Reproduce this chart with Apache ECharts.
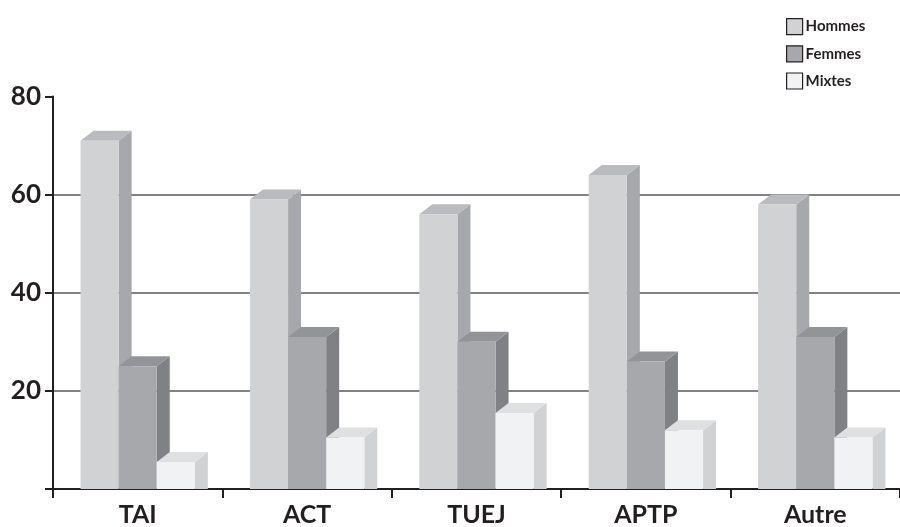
<!DOCTYPE html>
<html>
<head>
<meta charset="utf-8">
<script src="https://cdn.jsdelivr.net/npm/echarts@6/dist/echarts.min.js"></script>
<style>
  html, body { margin: 0; padding: 0; background: #fff; }
  #chart { width: 900px; height: 527px; }
</style>
</head>
<body>
<div id="chart"></div>
<script>
// data
const categories = ["TAI", "ACT", "TUEJ", "APTP", "Autre"];
const hommes = [71, 59, 56, 64, 58];
const femmes = [25, 31, 30, 26, 31];
const mixtes = [5.5, 10.5, 15.5, 12, 10.5];
const yTicks = [0, 20, 40, 60, 80];
const seriesNames = ["Hommes", "Femmes", "Mixtes"];

// front / side / top shades for each series
const shades = [
  { front: "#d1d2d4", side: "#a7a8ab", top: "#babbbe" },
  { front: "#a7a8ab", side: "#808184", top: "#939497" },
  { front: "#f1f2f3", side: "#d1d2d4", top: "#dfe0e2" }
];

const DX = 13, DY = 10; // fake depth in px

function renderItem(params, api) {
  const s = params.seriesIndex;
  const idx = api.value(0);
  const base = api.coord([idx, 0]);
  const top = api.coord([idx, api.value(1)]);
  const band = api.size([1, 0])[0];
  const w = band * 0.225;
  const x0 = base[0] - 1.5 * w + s * w;
  const x1 = x0 + w;
  const y0 = base[1];
  const y = top[1];
  const c = shades[s];
  return {
    type: "group",
    children: [
      {
        type: "polygon",
        shape: { points: [[x1, y], [x1 + DX, y - DY], [x1 + DX, y0], [x1, y0]] },
        style: { fill: c.side }
      },
      {
        type: "polygon",
        shape: { points: [[x0, y], [x1, y], [x1 + DX, y - DY], [x0 + DX, y - DY]] },
        style: { fill: c.top }
      },
      {
        type: "rect",
        shape: { x: x0, y: y, width: w, height: y0 - y },
        style: { fill: c.front }
      }
    ]
  };
}

const values = [hommes, femmes, mixtes];

const option = {
  animation: false,
  textStyle: { fontFamily: "Lato" },
  legend: {
    orient: "vertical",
    left: 781,
    top: 13,
    icon: "rect",
    itemWidth: 16,
    itemHeight: 16,
    itemGap: 10,
    align: "left",
    itemStyle: { borderColor: "#231f20", borderWidth: 1.2 },
    textStyle: { fontSize: 15, fontWeight: "bold", color: "#231f20", padding: [0, 0, 0, -2] },
    data: seriesNames
  },
  grid: { left: 53, right: -3, top: 96.5, bottom: 37, containLabel: false },
  xAxis: {
    type: "category",
    data: categories,
    boundaryGap: true,
    axisLine: { lineStyle: { color: "#231f20", width: 2 } },
    axisTick: { show: true, length: 9, lineStyle: { color: "#231f20", width: 2 } },
    axisLabel: { fontSize: 25, fontWeight: "bold", color: "#231f20", margin: 13 },
    splitLine: { show: false }
  },
  yAxis: {
    type: "value",
    min: yTicks[0],
    max: yTicks[yTicks.length - 1],
    interval: 20,
    axisLine: { show: true, lineStyle: { color: "#231f20", width: 2 } },
    axisTick: { show: true, length: 8, lineStyle: { color: "#231f20", width: 2 } },
    axisLabel: {
      fontSize: 26, fontWeight: "bold", color: "#231f20", margin: 12,
      formatter: v => (v === 0 ? "" : String(v))
    },
    splitLine: {
      show: true,
      showMinLine: false,
      showMaxLine: false,
      lineStyle: { color: "#58595b", width: 1.5 }
    }
  },
  series: seriesNames.map((name, s) => ({
    name: name,
    type: "custom",
    renderItem: renderItem,
    itemStyle: { color: shades[s].front },
    encode: { x: 0, y: 1 },
    data: values[s].map((v, i) => [i, v]),
    z: 3
  }))
};

const myChart = echarts.init(document.getElementById("chart"));
myChart.setOption(option);
</script>
</body>
</html>
